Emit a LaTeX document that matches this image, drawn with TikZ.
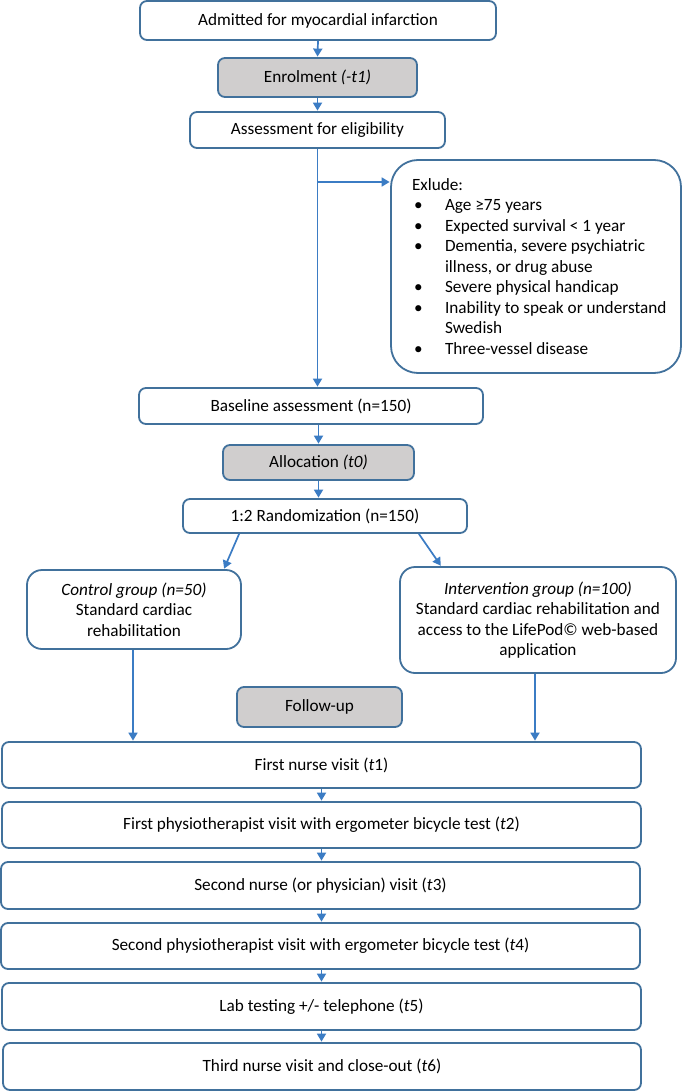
\documentclass[tikz,border=0pt]{standalone}
\usepackage{fontspec}
\setmainfont{Carlito}
\usetikzlibrary{arrows.meta}
\definecolor{bordc}{HTML}{41719C}
\definecolor{arrc}{HTML}{3B7CC4}
\definecolor{grayf}{HTML}{D0CECE}
\tikzset{
  box/.style={draw=bordc, line width=1.8pt, rounded corners=7pt, fill=white, inner sep=0pt, align=center, font=\fontsize{17.2}{20.5}\selectfont},
  graybox/.style={box, fill=grayf},
  bigbox/.style={box, rounded corners=15pt},
  arr/.style={draw=arrc, line width=1.7pt, -{Triangle[width=9pt,length=8pt]}, shorten >=0.5pt}
}
\newcommand{\blt}[1]{\makebox[33pt][l]{\hspace{2pt}\textbullet}\mbox{#1}}
\newcommand{\cnt}[1]{\hspace*{33pt}\mbox{#1}}
\begin{document}
\begin{tikzpicture}[x=1pt,y=-1pt]
\useasboundingbox[fill=white] (0,0) rectangle (685,1091);

\node[box, minimum width=356pt, minimum height=39pt] (adm) at (318,20.5) {Admitted for myocardial infarction};
\node[graybox, minimum width=199pt, minimum height=39pt] (enr) at (317.5,77.5) {Enrolment \textit{(-t1)}};
\node[box, minimum width=255pt, minimum height=36pt] (ass) at (317.5,130) {Assessment for eligibility};
\node[box, rounded corners=27pt, minimum width=290pt, minimum height=213pt] (exc) at (536,266.5) {%
\begin{minipage}{248pt}\raggedright
\mbox{Exlude:}\\
\blt{Age ≥75 years}\\
\blt{Expected survival < 1 year}\\
\blt{Dementia, severe psychiatric}\\
\cnt{illness, or drug abuse}\\
\blt{Severe physical handicap}\\
\blt{Inability to speak or understand}\\
\cnt{Swedish}\\
\blt{Three-vessel disease}
\end{minipage}};
\node[box, minimum width=344pt, minimum height=36pt] (base) at (311,406) {Baseline assessment (n=150)};
\node[graybox, minimum width=191pt, minimum height=35pt] (alloc) at (318.5,462.5) {Allocation \textit{(t0)}};
\node[box, minimum width=284pt, minimum height=34pt] (rand) at (325,516) {1:2 Randomization (n=150)};
\node[bigbox, minimum width=214pt, minimum height=79pt] (ctrl) at (134,609.5) {\textit{Control group (n=50)}\\Standard cardiac\\rehabilitation};
\node[bigbox, minimum width=276pt, minimum height=106pt] (intv) at (538,620) {\textit{Intervention group (n=100)}\\Standard cardiac rehabilitation and\\access to the LifePod© web-based\\application};
\node[graybox, minimum width=165pt, minimum height=40pt] (fu) at (319.5,707) {Follow-up};
\node[box, minimum width=639pt, minimum height=46pt] (t1) at (321.5,765) {First nurse visit (\textit{t}1)};
\node[box, minimum width=639pt, minimum height=46pt] (t2) at (321.5,825) {First physiotherapist visit with ergometer bicycle test (\textit{t}2)};
\node[box, minimum width=639pt, minimum height=47pt] (t3) at (320.5,885.5) {Second nurse (or physician) visit (\textit{t}3)};
\node[box, minimum width=639pt, minimum height=46pt] (t4) at (320.5,946) {Second physiotherapist visit with ergometer bicycle test (\textit{t}4)};
\node[box, minimum width=639pt, minimum height=47pt] (t5) at (321.5,1006.5) {Lab testing +/- telephone (\textit{t}5)};
\node[box, minimum width=638pt, minimum height=47pt] (t6) at (322,1066.5) {Third nurse visit and close-out (\textit{t}6)};

\draw[arr] (adm.south) -- (enr.north);
\draw[arr] (enr.south) -- (enr.south |- ass.north);
\draw[arr] (ass.south) -- (ass.south |- base.north);
\coordinate (br) at (317.5,182);
\draw[arr] (br) -- (br -| exc.west);
\draw[arr] (alloc.north |- base.south) -- (alloc.north);
\draw[arr] (alloc.south) -- (alloc.south |- rand.north);
\draw[arr] ([xshift=57pt]rand.south west) -- ([xshift=-18pt]ctrl.north east);
\draw[arr] ([xshift=-49pt]rand.south east) -- ([xshift=42pt]intv.north west);
\draw[arr] ([xshift=-1pt]ctrl.south) -- ([xshift=-1pt]ctrl.south |- t1.north);
\draw[arr] ([xshift=-3pt]intv.south) -- ([xshift=-3pt]intv.south |- t1.north);
\draw[arr] (t1.south) -- (t1.south |- t2.north);
\draw[arr] (t2.south) -- (t2.south |- t3.north);
\draw[arr] (t2.south |- t3.south) -- (t2.south |- t4.north);
\draw[arr] (t2.south |- t4.south) -- (t2.south |- t5.north);
\draw[arr] (t2.south |- t5.south) -- (t2.south |- t6.north);
\end{tikzpicture}
\end{document}
